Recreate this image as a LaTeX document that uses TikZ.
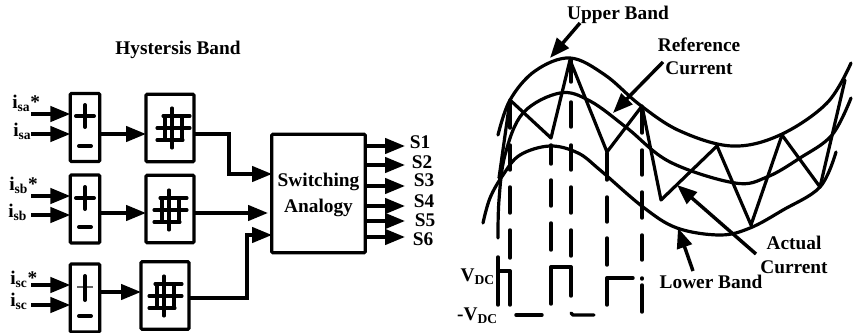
\documentclass[tikz,border=0pt]{standalone}
\usepackage{fontspec}
\setmainfont{Liberation Serif}
\usepackage{tikz}
\usetikzlibrary{shapes, arrows.meta, positioning}

\begin{document}
\begin{tikzpicture}
  [
    x=0.75pt, y=-0.75pt,
    Sum/.style={rectangle, draw=black, line width=2.4pt, rounded corners=0.8pt, outer sep=0pt, minimum width=22pt, minimum height=51pt},
    Hyst/.style={rectangle, draw=black, line width=2.4pt, rounded corners=0.8pt, outer sep=0pt, minimum width=36pt, minimum height=50.5pt},
    Logic/.style={rectangle, draw=black, line width=2.4pt, rounded corners=0.8pt, outer sep=0pt, minimum width=70pt, minimum height=89pt},
    Tag/.style={inner sep=0pt, align=center, font=\fontsize{14.5}{16}\selectfont\bfseries},
    Flow/.style={draw=black, line width=2.6pt, -{Triangle[length=15pt, width=11.5pt]}},
    Wire/.style={draw=black, line width=2.6pt, line cap=round, line join=round},
    Curve/.style={draw=black, line width=2.4pt, line cap=round, line join=round},
    Mark/.style={draw=black, line width=2.3pt, line cap=round},
    Sign/.style={draw=black, line width=3pt, line cap=round}
  ]
  \useasboundingbox (0, 0) rectangle (856, 332);

  % Nodes
  \node[Sum] (suma) at(85, 127.5) {};
  \node[Sum] (sumb) at(85, 209) {};
  \node[Sum] (sumc) at(85, 298) {};
  \node[Hyst] (hysta) at(170, 128) {};
  \node[Hyst] (hystb) at(170, 209) {};
  \node[Hyst] (hystc) at(165, 295.5) {};
  \node[Logic] (logic) at(318.5, 193.5) {};
  \node[Tag] (logictext) at(318.5, 195) {Switching\\[3pt]Analogy};

  \node[Tag] (title) at(178, 50) {Hystersis Band};
  \node[Tag, anchor=west] (isastar) at(12, 103) {i\textsubscript{sa}*};
  \node[Tag, anchor=west] (isa) at(13, 131) {i\textsubscript{sa}};
  \node[Tag, anchor=west] (isbstar) at(9, 185) {i\textsubscript{sb}*};
  \node[Tag, anchor=west] (isb) at(8, 212) {i\textsubscript{sb}};
  \node[Tag, anchor=west] (iscstar) at(10, 279) {i\textsubscript{sc}*};
  \node[Tag, anchor=west] (isc) at(10, 301) {i\textsubscript{sc}};

  \node[Tag] (s1) at(420, 142) {S1};
  \node[Tag] (s2) at(422, 162) {S2};
  \node[Tag] (s3) at(424, 180) {S3};
  \node[Tag] (s4) at(424, 201) {S4};
  \node[Tag] (s5) at(425, 220) {S5};
  \node[Tag] (s6) at(423, 239) {S6};

  \node[Tag] (upper) at(618, 15) {Upper Band};
  \node[Tag] (refa) at(699, 45) {Reference};
  \node[Tag] (refb) at(699, 68) {Current};
  \node[Tag] (acta) at(794, 243) {Actual};
  \node[Tag] (actb) at(794, 267) {Current};
  \node[Tag] (lower) at(711, 282) {Lower Band};
  \node[Tag, anchor=east] (vhigh) at(495, 277) {V\textsubscript{DC}};
  \node[Tag, anchor=east] (vlow) at(498, 316) {-V\textsubscript{DC}};

  \coordinate (ia1) at(31, 114);
  \coordinate (ia2) at(31, 134);
  \coordinate (ib1) at(31, 196);
  \coordinate (ib2) at(31, 215);
  \coordinate (ic1) at(31, 285);
  \coordinate (ic2) at(31, 305);
  \coordinate (ja) at(272, 174);
  \coordinate (jb) at(268, 213);
  \coordinate (jc) at(272, 235);
  \coordinate (kneea) at(229, 134);
  \coordinate (kneec) at(247, 298);

  \coordinate (o1) at(405, 146);
  \coordinate (o2) at(405, 165);
  \coordinate (o3) at(405, 186);
  \coordinate (o4) at(405, 206);
  \coordinate (o5) at(405, 221);
  \coordinate (o6) at(405, 237);

  \coordinate (upfrom) at(580, 23);
  \coordinate (upto) at(550, 58);
  \coordinate (reffrom) at(663, 62);
  \coordinate (refto) at(613, 113);
  \coordinate (actfrom) at(756, 254);
  \coordinate (actto) at(677, 185);
  \coordinate (lowfrom) at(693, 271);
  \coordinate (lowto) at(678, 228);

  % Lines
  \path [Flow] (ia1) -- (suma.west |- ia1);
  \path [Flow] (ia2) -- (suma.west |- ia2);
  \path [Flow] (ib1) -- (sumb.west |- ib1);
  \path [Flow] (ib2) -- (sumb.west |- ib2);
  \path [Flow] (ic1) -- (sumc.west |- ic1);
  \path [Flow] (ic2) -- (sumc.west |- ic2);

  \path [Flow] (suma.east |- ia2) -- (hysta.west |- ia2);
  \path [Flow] (sumb.east |- jb) -- (hystb.west |- jb);
  \path [Flow] (sumc.east |- 0, 292) -- (hystc.west |- 0, 292);

  \path [Flow] (hysta.east |- kneea) -- (kneea) |- (ja);
  \path [Flow] (hystb.east |- jb) -- (jb);
  \path [Flow] (hystc.east |- kneec) -- (kneec) |- (jc);

  \path [Flow] (logic.east |- o1) -- (o1);
  \path [Flow] (logic.east |- o2) -- (o2);
  \path [Flow] (logic.east |- o3) -- (o3);
  \path [Flow] (logic.east |- o4) -- (o4);
  \path [Flow] (logic.east |- o5) -- (o5);
  \path [Flow] (logic.east |- o6) -- (o6);

  \path [Flow] (upfrom) -- (upto);
  \path [Flow] (reffrom) -- (refto);
  \path [Flow] (actfrom) -- (actto);
  \path [Flow] (lowfrom) -- (lowto);

  % Plus and minus
  \foreach \cy/\dy in {116/146, 198/227} {
    \path [Sign] (76, \cy) -- (94, \cy);
    \path [Sign] (85, \cy-11) -- (85, \cy+11);
    \path [Sign] (79, \dy) -- (91, \dy);
  }
  \path [draw=black!60, line width=0.8pt] (77, 287) -- (93, 287);
  \path [Sign] (85, 276) -- (85, 300);
  \path [Sign] (79, 316) -- (91, 316);

  % Hysteresis marks
  \foreach \cx/\cy in {172/128, 169/210, 164/296} {
    \path [Mark] (\cx, \cy-20) -- (\cx, \cy+20);
    \path [Mark] (\cx-7, \cy-12) -- (\cx-7, \cy+12);
    \path [Mark] (\cx+10, \cy-12) -- (\cx+10, \cy+12);
    \path [Mark] (\cx-9, \cy-12) -- (\cx+18, \cy-12);
    \path [Mark] (\cx-15, \cy) -- (\cx+18, \cy);
    \path [Mark] (\cx-15, \cy+12) -- (\cx+11, \cy+12);
  }

  % Bands
  \draw [Curve] plot[smooth, tension=0.6] coordinates {(498, 135) (510, 100) (535, 71) (570, 58) (605, 75) (640, 105) (680, 131) (732, 146) (780, 135) (827, 103) (851, 63)};
  \draw [Curve] plot[smooth, tension=0.6] coordinates {(498, 238) (499, 200) (505, 155) (523, 113) (560, 93) (590, 101) (627, 128) (670, 162) (735, 183) (767, 177) (800, 158) (832, 135) (851, 98)};
  \draw [Curve] plot[smooth, tension=0.6] coordinates {(483, 223) (490, 198) (503, 175) (520, 155) (550, 146) (578, 153) (600, 170) (643, 207) (677, 228) (720, 235) (750, 228) (783, 210) (820, 187) (836, 152)};

  % Actual current
  \draw [Curve] (499, 178) -- (510, 100) -- (551, 138) -- (570, 60) -- (607, 152) -- (642, 106) -- (661, 200) -- (717, 146) -- (751, 225) -- (782, 135) -- (820, 187) -- (845, 80);

  % Dashes and pulses
  \foreach \px/\pa/\pb in {
    510/103/128, 510/145/170, 510/187/213, 510/230/258, 510/271/305,
    551/145/164, 551/180/206, 551/223/250, 551/267/304,
    571/60/82, 571/102/127, 571/145/170, 571/187/213, 571/230/256, 571/267/296,
    607/153/180, 607/197/222, 607/238/265, 607/278/305,
    642/107/133, 642/150/175, 642/192/218, 642/235/260, 642/278/279, 642/285/312,
    498/257/305} {
    \path [Wire] (\px, \pa) -- (\px, \pb);
  }
  \path [Wire] (498, 271) -- (510, 271);
  \path [Wire] (551, 267) -- (571, 267);
  \path [Wire] (607, 278) -- (633, 278);
  \path [Wire] (516, 315) -- (542, 315);
  \path [Wire] (571, 313) -- (573, 315) -- (594, 315);

\end{tikzpicture}
\end{document}
